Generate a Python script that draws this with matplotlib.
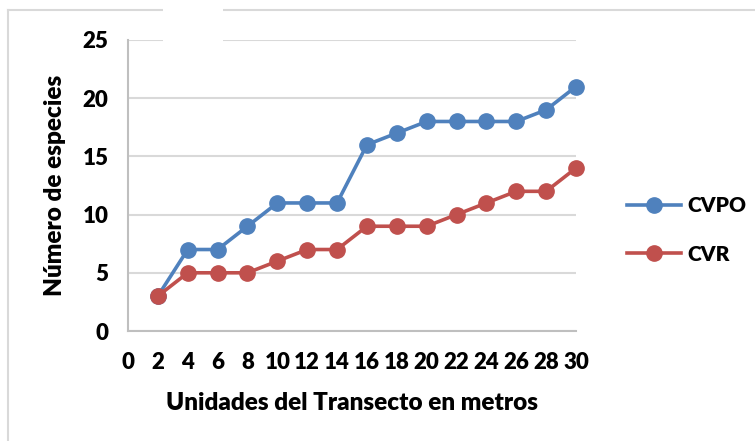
import matplotlib.pyplot as plt
from matplotlib.lines import Line2D
from matplotlib.patches import Rectangle

# data
metros = [2, 4, 6, 8, 10, 12, 14, 16, 18, 20, 22, 24, 26, 28, 30]
cvpo = [3, 7, 7, 9, 11, 11, 11, 16, 17, 18, 18, 18, 18, 19, 21]
cvr = [3, 5, 5, 5, 6, 7, 7, 9, 9, 9, 10, 11, 12, 12, 14]
xticks = list(range(0, 31, 2))
yticks = [0, 5, 10, 15, 20, 25]

W, H = 755, 441
plt.rcParams['font.family'] = ['Lato', 'DejaVu Sans']
plt.rcParams['font.weight'] = 'heavy'

fig = plt.figure(figsize=(W / 100, H / 100), dpi=100)
ax = fig.add_axes([128 / W, 1 - 331 / H, (576 - 128) / W, (331 - 40) / H])

blue = '#4F81BD'
red = '#C0504D'
ax.plot(metros, cvpo, color=blue, lw=2.6, marker='o', ms=11, label='CVPO', zorder=3, clip_on=False)
ax.plot(metros, cvr, color=red, lw=2.6, marker='o', ms=11, label='CVR', zorder=3, clip_on=False)

ax.set_xlim(0, 30)
ax.set_ylim(0, 25)
ax.set_xticks(xticks)
ax.set_yticks(yticks)
ax.tick_params(length=0, labelsize=16)
ax.tick_params(axis='x', pad=15)
ax.tick_params(axis='y', pad=14)
for t in ax.get_xticklabels() + ax.get_yticklabels():
    t.set_fontweight('heavy')
ax.yaxis.grid(True, color='#D9D9D9', lw=1.5)
ax.set_axisbelow(True)
for s in ['top', 'right']:
    ax.spines[s].set_visible(False)
for s in ['left', 'bottom']:
    ax.spines[s].set_color('#BFBFBF')
    ax.spines[s].set_linewidth(1.5)

ax.set_xlabel('Unidades del Transecto en metros', fontsize=17.5, fontweight='heavy', labelpad=14)
ax.set_ylabel('Número de especies', fontsize=17.5, fontweight='heavy', labelpad=12)

fig.legend(loc='center left', bbox_to_anchor=(627 / W, 1 - 230 / H), frameon=False,
           prop={'weight': 'heavy', 'size': 15}, handlelength=2.6, borderpad=0,
           borderaxespad=0, labelspacing=1.4, handletextpad=0.3)

# outer border of the chart area (only top and left show)
fig.add_artist(Line2D([8 / W, 8 / W], [0, 1 - 10 / H], color='#D9D9D9', lw=1.5))
fig.add_artist(Line2D([8 / W, 1], [1 - 10 / H, 1 - 10 / H], color='#D9D9D9', lw=1.5))
# blank strip where a title box was cut out
fig.add_artist(Rectangle((163 / W, 1 - 46 / H), 60 / W, 42 / H, facecolor='white',
                         edgecolor='none', transform=fig.transFigure, zorder=10))

fig.savefig('out.png', dpi=100)
